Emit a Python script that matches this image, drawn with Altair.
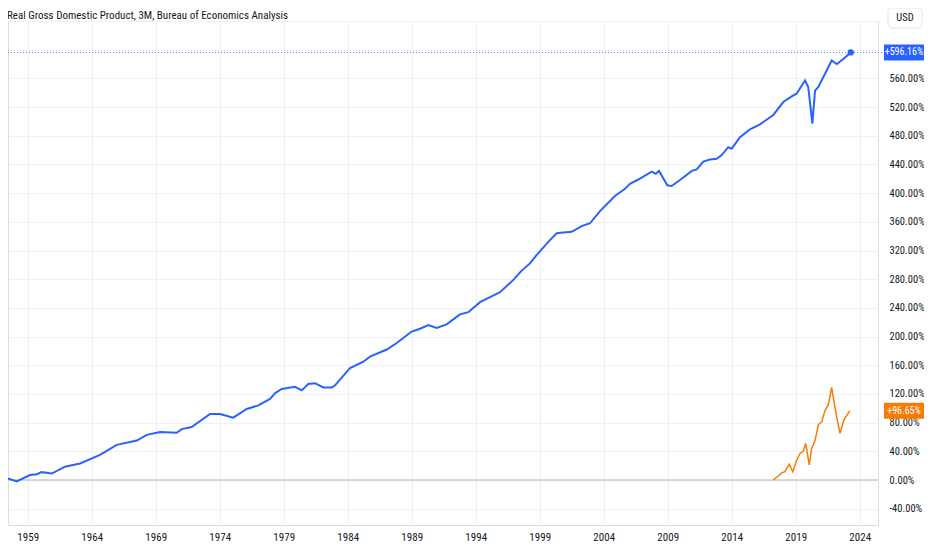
import altair as alt
import pandas as pd

TITLE = "Real Gross Domestic Product, 3M, Bureau of Economics Analysis"

# Real GDP, % change from first visible bar (blue)
gdp_year = [1956.84, 1957.48, 1958.14, 1959.18, 1959.70, 1960.09, 1960.88, 1961.91, 1963.09,
            1964.65, 1965.95, 1967.52, 1968.30, 1969.34, 1970.64, 1971.03, 1971.81, 1973.24,
            1974.02, 1975.06, 1976.11, 1977.02, 1977.93, 1978.32, 1978.84, 1979.88, 1980.41,
            1980.92, 1981.45, 1982.09, 1982.75, 1983.01, 1984.18, 1985.22, 1985.74, 1987.05,
            1987.83, 1989.00, 1989.65, 1990.30, 1990.95, 1991.73, 1992.77, 1993.42, 1994.34,
            1995.12, 1995.90, 1996.94, 1997.59, 1998.24, 1998.77, 1999.67, 2000.33, 2000.84,
            2001.50, 2002.28, 2002.93, 2003.71, 2004.88, 2005.66, 2006.05, 2006.70, 2007.75,
            2008.06, 2008.32, 2008.97, 2009.31, 2010.09, 2010.88, 2011.27, 2011.78, 2012.30,
            2012.83, 2013.22, 2013.73, 2014.00, 2014.65, 2015.43, 2016.21, 2017.25, 2018.03,
            2018.69, 2019.08, 2019.73, 2019.98, 2020.30, 2020.51, 2020.77, 2021.42, 2021.81,
            2022.21, 2022.72, 2023.30]
gdp_pct = [0, 2, -2, 7, 8, 11, 9, 18.6, 23,
           35, 49, 55, 63, 67, 66, 71, 74, 92,
           92, 87, 99, 104, 113, 121, 127, 130, 125,
           134, 135, 129, 129, 132, 156, 165, 172, 182,
           191, 207, 211, 216, 212, 217, 231, 234, 248,
           255, 262, 279, 292, 302, 314, 332, 344, 345,
           346, 354, 358, 375, 396, 406, 413, 419, 430,
           427, 431, 411, 410, 420, 431, 433, 444, 447,
           448, 453, 464, 462, 478, 489, 496, 509, 527,
           535, 539, 557, 548, 497, 543, 548, 571, 585,
           580, 587, 596.16]

# Comparison series (orange)
cmp_year = [2017.25, 2017.64, 2017.91, 2018.16, 2018.50, 2018.77, 2019.08, 2019.34, 2019.59,
            2019.78, 2020.06, 2020.25, 2020.51, 2020.77, 2021.03, 2021.29, 2021.55, 2021.81,
            2022.15, 2022.46, 2022.77, 2023.24]
cmp_pct = [0, 5.6, 10, 11.6, 22, 11.6, 28, 37, 40,
           51, 21, 44, 55, 77, 81, 97, 105, 129,
           93, 65, 84, 96.65]

last_pct = [596.16, 96.65]
last_label = ["+596.16%", "+96.65%"]
last_color = ["#2962ff", "#f57c00"]

x_ticks = list(range(1959, 2025, 5))
y_ticks = list(range(-40, 641, 40))

W, H = 870, 504
FONT = "Liberation Sans Narrow, Roboto Condensed, Roboto, sans-serif"
TXT = "#131722"
GRID = "#eef0f5"

gdp = pd.DataFrame({"year": gdp_year, "pct": gdp_pct})
cmp_df = pd.DataFrame({"year": cmp_year, "pct": cmp_pct})
last = pd.DataFrame({"pct": last_pct, "label": last_label, "color": last_color})
gdp_end = gdp.tail(1)

xs = alt.Scale(domain=[1957.46, 2025.43], nice=False, zero=False)
ys = alt.Scale(domain=[-62.7, 640], nice=False, zero=False)

x_axis = alt.Axis(values=x_ticks, format="d", title=None, ticks=False, domain=False,
                  labelPadding=6, labelFontSize=11, labelColor=TXT, labelFont=FONT,
                  gridColor=GRID, gridWidth=1, labelFlush=False)
y_axis = alt.Axis(values=y_ticks, orient="right", title=None, ticks=False, domain=False,
                  labelPadding=11, labelAlign="left", labelFontSize=10.5, labelColor=TXT,
                  labelFont=FONT, gridColor=GRID, gridWidth=1,
                  labelExpr="datum.value >= 600 ? '' : replace(format(datum.value, '.2f'), '\u2212', '-') + '%'")

X = alt.X("year:Q", scale=xs, axis=x_axis)
Y = alt.Y("pct:Q", scale=ys, axis=y_axis)

zero_rule = alt.Chart(pd.DataFrame({"pct": [0]})).mark_rule(color="#c9cbd1", strokeWidth=1.5).encode(y=Y)

price_rule = alt.Chart(last.head(1)).mark_rule(
    color="#2962ff", strokeWidth=1, strokeDash=[1, 2], opacity=0.8
).encode(y=Y, x=alt.value(0), x2=alt.value(W + 6))

cmp_line = alt.Chart(cmp_df).mark_line(color="#f57c00", strokeWidth=1.5, clip=True).encode(x=X, y=Y)

gdp_line = alt.Chart(gdp).mark_line(color="#2962ff", strokeWidth=2, clip=True).encode(x=X, y=Y)

end_dot = alt.Chart(gdp_end).mark_circle(color="#2962ff", size=40, opacity=1).encode(x=X, y=Y)

boxes = alt.Chart(last).transform_calculate(
    lo="datum.pct - 11.2", hi="datum.pct + 11.2"
).mark_rect(cornerRadius=1).encode(
    y=alt.Y("lo:Q", scale=ys, axis=y_axis), y2="hi:Q",
    x=alt.value(W + 6), x2=alt.value(W + 46),
    color=alt.Color("color:N", scale=None),
)

box_text = alt.Chart(last).mark_text(
    color="white", fontSize=10, font=FONT, align="center", baseline="middle"
).encode(y=Y, x=alt.value(W + 26), text="label:N")

usd_box = alt.Chart(pd.DataFrame({"t": ["USD"]})).mark_rect(
    fill="white", stroke="#e0e3eb", strokeWidth=1, cornerRadius=4
).encode(x=alt.value(W + 10), x2=alt.value(W + 44), y=alt.value(-13), y2=alt.value(7))

usd_text = alt.Chart(pd.DataFrame({"t": ["USD"]})).mark_text(
    fontSize=10.5, font=FONT, color=TXT, align="center", baseline="middle"
).encode(x=alt.value(W + 27), y=alt.value(-3), text="t:N")

title_text = alt.Chart(pd.DataFrame({"t": [TITLE]})).mark_text(
    fontSize=11, font=FONT, color=TXT, align="left", baseline="alphabetic"
).encode(x=alt.value(-1), y=alt.value(-2), text="t:N")

chart = alt.layer(
    zero_rule, price_rule, cmp_line, gdp_line, end_dot, boxes, box_text,
    usd_box, usd_text, title_text
).properties(
    width=W, height=H,
    autosize=alt.AutoSizeParams(type="none"),
    padding={"left": 0, "top": 13, "right": 46, "bottom": 26},
).configure_view(strokeWidth=0).configure(background="white")

chart.save("out.html", embed_options={"renderer": "svg", "actions": False})
